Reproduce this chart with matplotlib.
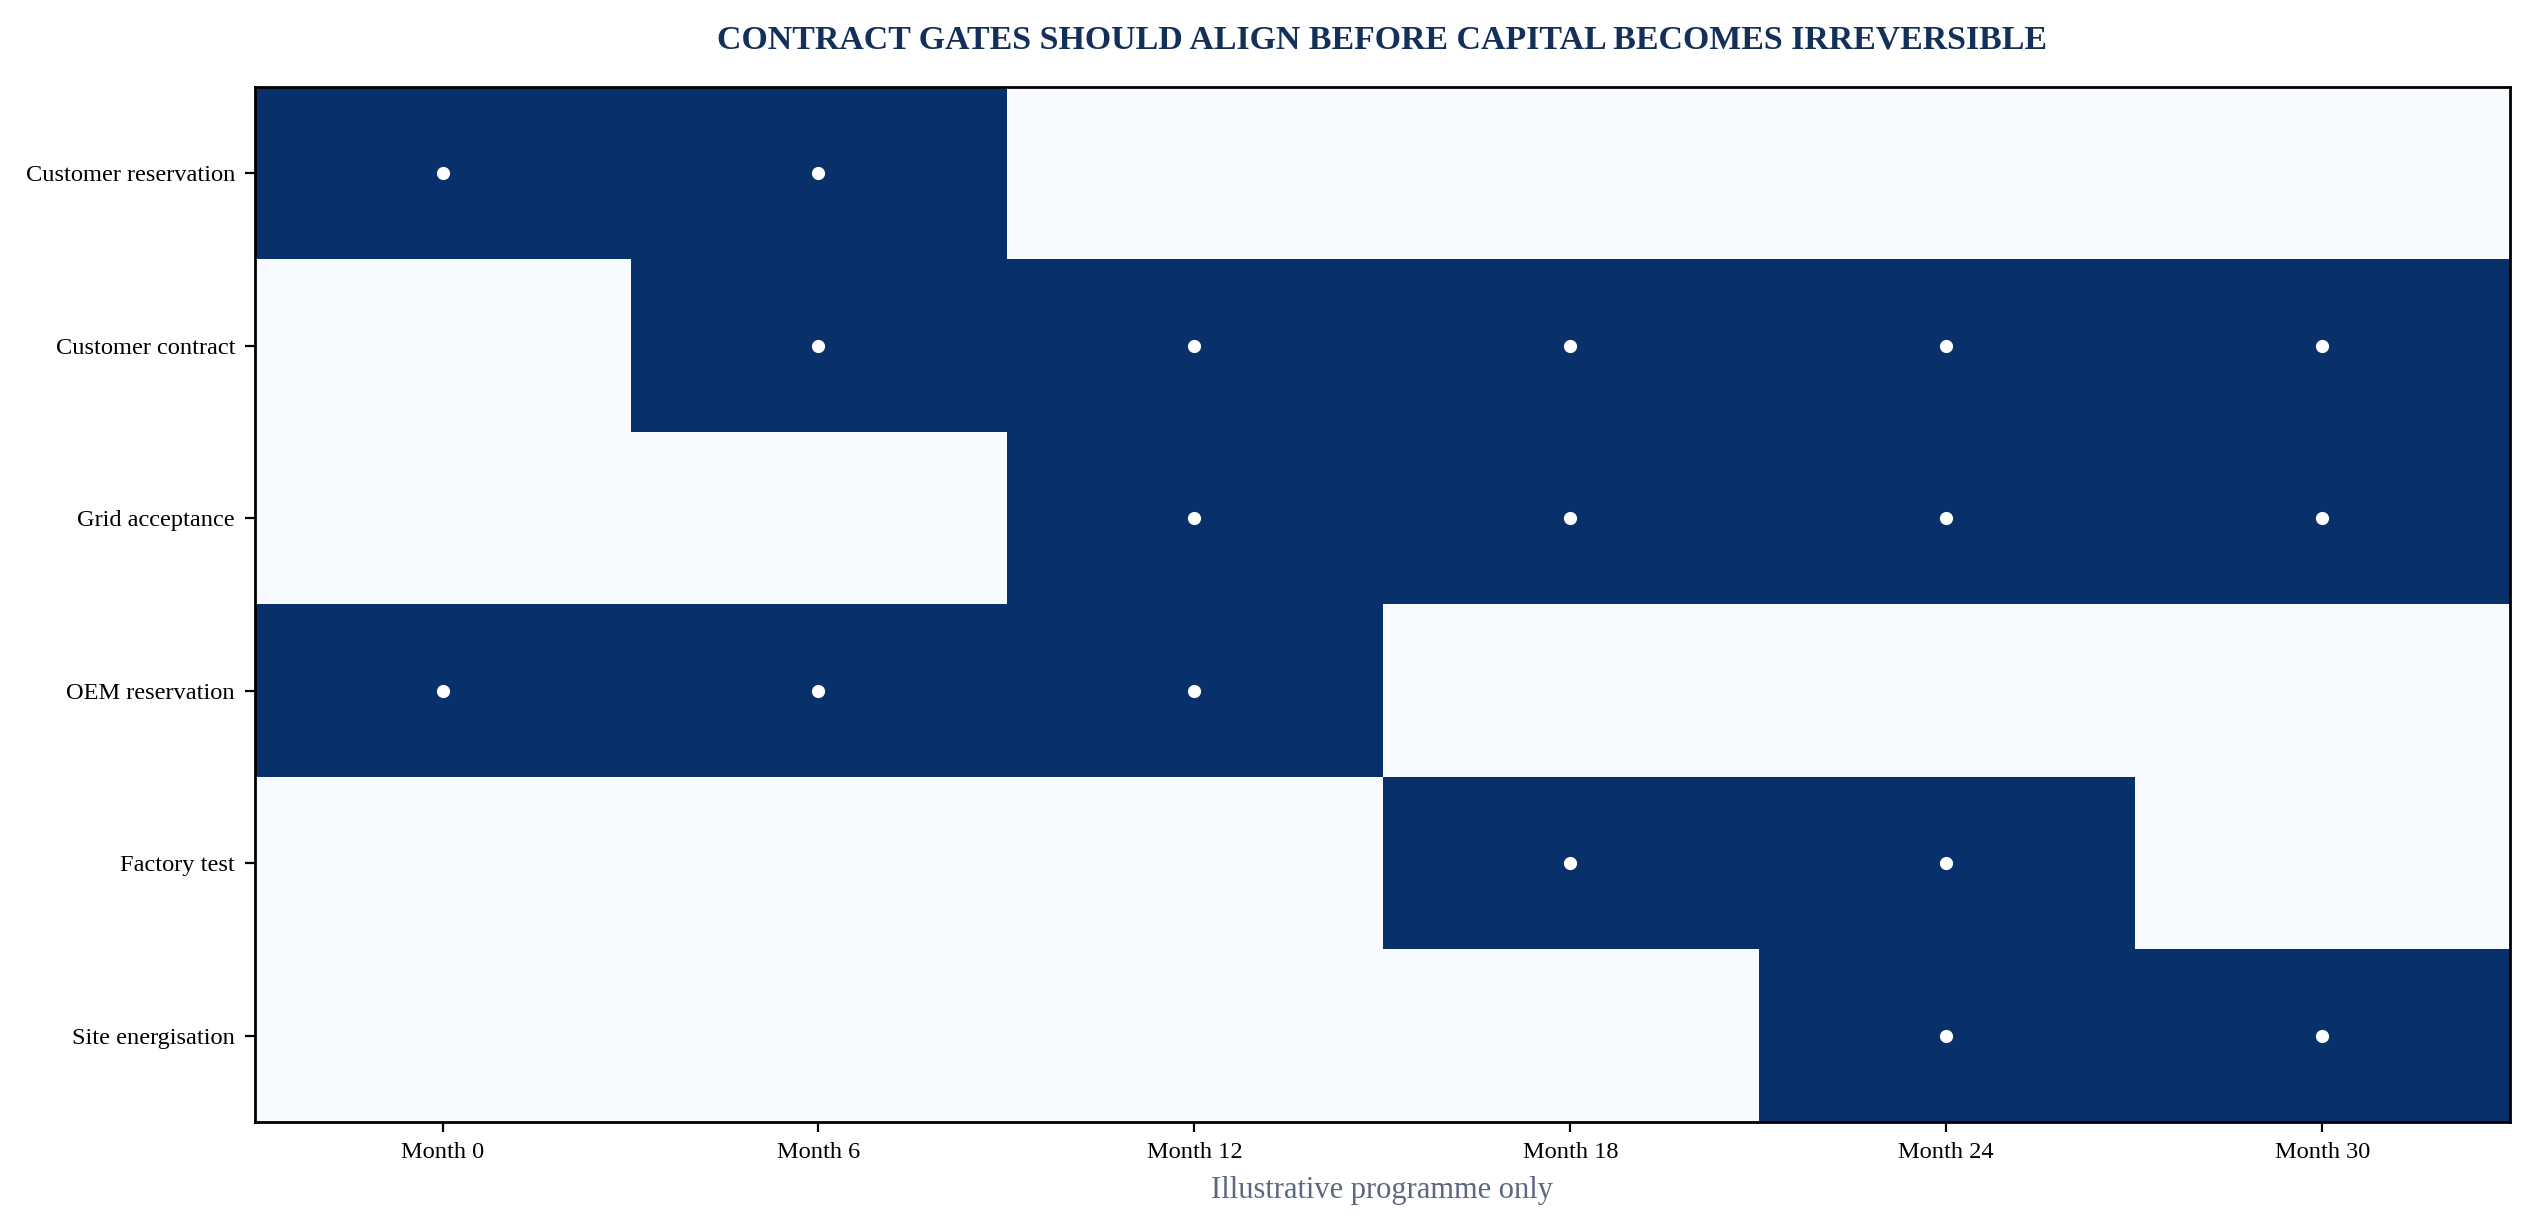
import numpy as np
import matplotlib
matplotlib.use("Agg")
import matplotlib.pyplot as plt

plt.rcParams['font.family'] = ['Liberation Serif', 'DejaVu Serif']

# Gates (rows) and programme months (columns)
gates = ["Customer reservation", "Customer contract", "Grid acceptance",
         "OEM reservation", "Factory test", "Site energisation"]
months = ["Month 0", "Month 6", "Month 12", "Month 18", "Month 24", "Month 30"]

# 1 = gate active in that month
customer_reservation = [1, 1, 0, 0, 0, 0]
customer_contract = [0, 1, 1, 1, 1, 1]
grid_acceptance = [0, 0, 1, 1, 1, 1]
oem_reservation = [1, 1, 1, 0, 0, 0]
factory_test = [0, 0, 0, 1, 1, 0]
site_energisation = [0, 0, 0, 0, 1, 1]

grid = np.array([customer_reservation, customer_contract, grid_acceptance,
                 oem_reservation, factory_test, site_energisation])

fig = plt.figure(figsize=(12.665, 6.145), dpi=200)
ax = fig.add_axes([0.1005, 0.087, 0.8905, 0.842])

ax.imshow(grid, cmap="Blues", aspect="auto", vmin=0, vmax=1, interpolation="nearest")

# white dots on active cells
rows, cols = np.nonzero(grid)
ax.scatter(cols, rows, s=14, color="white", zorder=3)

ax.set_xticks(range(len(months)))
ax.set_xticklabels(months, fontsize=8.8)
ax.set_yticks(range(len(gates)))
ax.set_yticklabels(gates, fontsize=8.8)
ax.tick_params(length=3.5, width=0.8)
for sp in ax.spines.values():
    sp.set_linewidth(1.0)

ax.set_xlabel("Illustrative programme only", fontsize=11, color="#5b6880", labelpad=5)
ax.set_title("CONTRACT GATES SHOULD ALIGN BEFORE CAPITAL BECOMES IRREVERSIBLE",
             fontsize=12.2, fontweight="bold", color="#13305a", pad=14)

fig.savefig("out.png", dpi=200)
